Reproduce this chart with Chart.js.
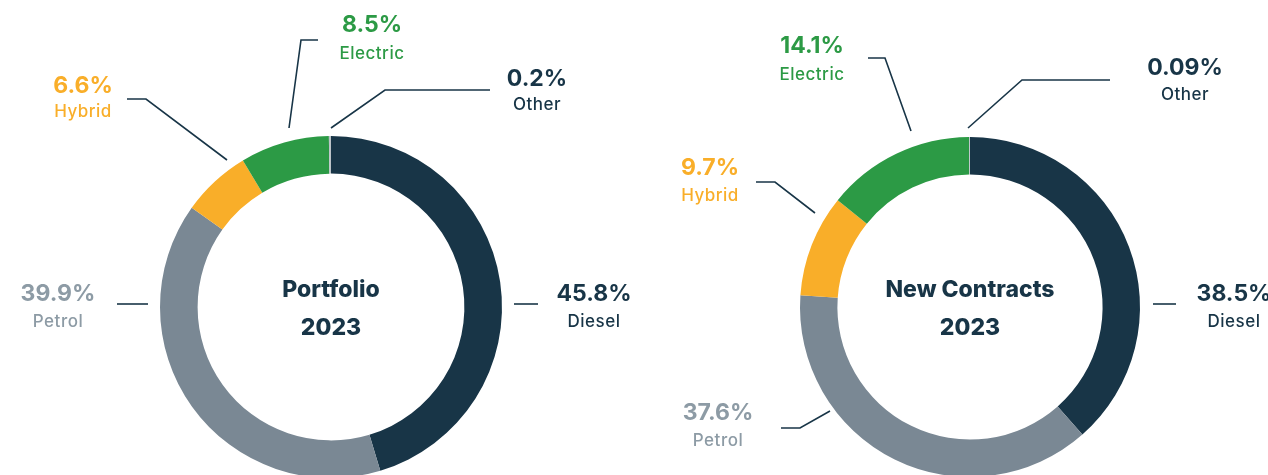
<!DOCTYPE html>
<html>
<head>
<meta charset="utf-8">
<script src="https://cdn.jsdelivr.net/npm/chart.js@4.4.1/dist/chart.umd.min.js"></script>
<style>
  html, body { margin: 0; padding: 0; background: #ffffff; overflow: hidden; width: 1268px; height: 475px; }
  .box { position: absolute; top: 0; width: 634px; height: 520px; }
  #b1 { left: 0; }
  #b2 { left: 634px; }
</style>
</head>
<body>
<div class="box" id="b1"><canvas id="c1" width="634" height="520"></canvas></div>
<div class="box" id="b2"><canvas id="c2" width="634" height="520"></canvas></div>
<script>
// ---- data ----
const categories = ['Diesel', 'Petrol', 'Hybrid', 'Electric', 'Other'];
const portfolioValues = [45.8, 39.9, 6.6, 8.5, 0.2];
const newContractsValues = [38.5, 37.6, 9.7, 14.1, 0.09];
const portfolioTitle = ['Portfolio', '2023'];
const newContractsTitle = ['New Contracts', '2023'];

// ---- styles ----
const sliceColors = ['#183547', '#7a8894', '#f9ae29', '#2c9a45', '#bcc3c8'];
const textColors = ['#183547', '#8d9ba5', '#f9ae29', '#2c9a45', '#183547'];
const lineColor = '#183547';
const FONT = 'Inter, "Open Sans", sans-serif';

// label layout, offsets relative to doughnut centre
const portfolioLayout = [
  { tx: 263, py: -6, ny: 20, line: [[183, -3], [207, -3]] },
  { tx: -273, py: -6, ny: 20, line: [[-183, -3], [-214, -3]] },
  { tx: -248, py: -214, ny: -190, line: [[-104, -147], [-185, -208], [-204, -208]] },
  { tx: 41, py: -275, ny: -248, line: [[-42, -179], [-30, -267], [-13, -267]] },
  { tx: 206, py: -221, ny: -197, line: [[0, -179], [54, -217], [159, -217]] }
];
const newContractsLayout = [
  { tx: 264, py: -6, ny: 20, line: [[183, -3], [206, -3]] },
  { tx: -252, py: 113, ny: 139, line: [[-140, 104], [-170, 121], [-189, 121]] },
  { tx: -260, py: -132, ny: -106, line: [[-155, -94], [-195, -125], [-214, -125]] },
  { tx: -158, py: -254, ny: -227, line: [[-59, -176], [-85, -249], [-102, -249]] },
  { tx: 215, py: -232, ny: -207, line: [[-2, -179], [52, -227], [140, -227]] }
];

function labelPlugin(values, layout, title) {
  return {
    id: 'labels',
    afterDraw(chart) {
      const ctx = chart.ctx;
      const arc = chart.getDatasetMeta(0).data[0];
      const cx = arc.x, cy = arc.y;
      ctx.save();
      ctx.strokeStyle = lineColor;
      ctx.lineWidth = 1.6;
      layout.forEach(l => {
        ctx.beginPath();
        l.line.forEach((p, i) => {
          if (i === 0) ctx.moveTo(cx + p[0], cy + p[1]);
          else ctx.lineTo(cx + p[0], cy + p[1]);
        });
        ctx.stroke();
      });
      ctx.textAlign = 'center';
      ctx.textBaseline = 'alphabetic';
      values.forEach((v, i) => {
        const l = layout[i];
        ctx.fillStyle = textColors[i];
        ctx.letterSpacing = '0px';
        ctx.font = '700 23px ' + FONT;
        ctx.fillText(String(v) + '%', cx + l.tx, cy + l.py);
        ctx.letterSpacing = '0.5px';
        ctx.font = '500 17px ' + FONT;
        ctx.fillText(categories[i], cx + l.tx, cy + l.ny);
      });
      ctx.letterSpacing = '0px';
      ctx.fillStyle = '#183547';
      ctx.font = '800 23px ' + FONT;
      ctx.fillText(title[0], cx, cy - 10);
      ctx.fillText(title[1], cx, cy + 28);
      ctx.restore();
    }
  };
}

function makeChart(id, values, layout, title, padding) {
  return new Chart(document.getElementById(id), {
    type: 'doughnut',
    data: {
      labels: categories,
      datasets: [{
        data: values,
        backgroundColor: sliceColors,
        borderWidth: 0,
        hoverOffset: 0,
        hoverBorderWidth: 0
      }]
    },
    options: {
      responsive: false,
      animation: false,
      cutout: '78%',
      layout: { padding: padding },
      plugins: { legend: { display: false }, tooltip: { enabled: false } },
      events: []
    },
    plugins: [labelPlugin(values, layout, title)]
  });
}

makeChart('c1', portfolioValues, portfolioLayout, portfolioTitle, { left: 160, right: 132, top: 136, bottom: 42 });
makeChart('c2', newContractsValues, newContractsLayout, newContractsTitle, { left: 166, right: 128, top: 137, bottom: 43 });
</script>
</body>
</html>
